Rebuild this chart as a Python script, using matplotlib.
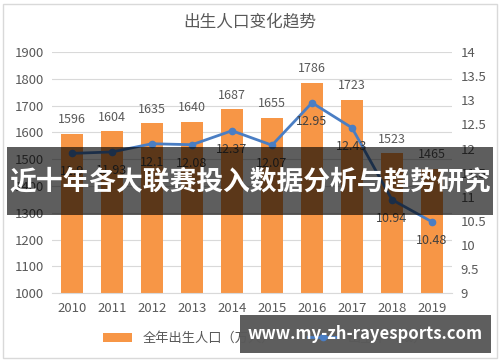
import numpy as np
import matplotlib.pyplot as plt
from matplotlib.patches import Rectangle

plt.rcParams['font.family'] = ['Noto Sans CJK SC', 'DejaVu Sans']

years = ['2010', '2011', '2012', '2013', '2014', '2015', '2016', '2017', '2018', '2019']
births = [1596, 1604, 1635, 1640, 1687, 1655, 1786, 1723, 1523, 1465]
rate = [11.9, 11.93, 12.1, 12.08, 12.37, 12.07, 12.95, 12.43, 10.94, 10.48]

bar_c = '#F79646'
line_c = '#4A7EC4'
txt_c = '#595959'

fig = plt.figure(figsize=(5, 3.62), dpi=100)
ax = fig.add_axes([0.104, 0.19, 0.8, 0.666])
ax2 = ax.twinx()

x = np.arange(len(years))
ax.bar(x, births, width=0.57, color=bar_c, zorder=2, label='全年出生人口（万人）')
ax.set_ylim(1000, 1900)
ax.set_yticks(range(1000, 1901, 100))
ax.set_xlim(-0.5, 9.5)
ax.set_xticks(x)
ax.set_xticklabels(years)
ax.grid(axis='y', color='#D9D9D9', lw=0.8, zorder=0)
ax.set_axisbelow(True)
for s in ax.spines.values():
    s.set_visible(False)
for s in ax2.spines.values():
    s.set_visible(False)
ax.spines['bottom'].set_visible(True)
ax.spines['bottom'].set_color('#D9D9D9')
ax.tick_params(length=0, labelsize=9.5, colors=txt_c, pad=6)
for i, v in enumerate(births):
    ax.text(i, v + 28, str(v), ha='center', va='bottom', fontsize=9, color=txt_c)

ax2.plot(x, rate, color=line_c, lw=2, marker='o', ms=4.5, zorder=3, label='出生率（‰）')
ax2.set_ylim(9, 14)
ax2.set_yticks(np.arange(9, 14.01, 0.5))
ax2.set_yticklabels(['9', '9.5', '10', '10.5', '11', '11.5', '12', '12.5', '13', '13.5', '14'])
ax2.tick_params(length=0, labelsize=9.5, colors=txt_c, pad=6)
for i, v in enumerate(rate):
    ax2.text(i, v - 0.25, f'{v:g}', ha='center', va='top', fontsize=9, color='#404040')

fig.text(0.5, 0.94, '出生人口变化趋势', ha='center', va='center', fontsize=12, color=txt_c)

h1, l1 = ax.get_legend_handles_labels()
h2, l2 = ax2.get_legend_handles_labels()
fig.legend(h1 + h2, l1 + l2, loc='center', bbox_to_anchor=(0.53, 0.065), ncol=2,
           frameon=False, fontsize=9.5, labelcolor=txt_c, handlelength=2.2, columnspacing=2.5)

# outer frame
fig.patches.append(Rectangle((0.006, 0.012), 0.988, 0.978, transform=fig.transFigure,
                             fill=False, ec='#D9D9D9', lw=1))

# dark banner across the middle
fig.patches.append(Rectangle((0.014, 0.406), 0.972, 0.188, transform=fig.transFigure,
                             fc='black', alpha=0.63, ec='none', zorder=5))
fig.text(0.5, 0.5, '近十年各大联赛投入数据分析与趋势研究', ha='center', va='center',
         fontsize=19.3, fontweight='bold', color='white', zorder=6)

# watermark box
fig.patches.append(Rectangle((0.48, 0.025), 0.502, 0.105, transform=fig.transFigure,
                             fc='black', alpha=0.63, ec='none', zorder=5))
fig.text(0.731, 0.078, 'www.my-zh-rayesports.com', ha='center', va='center',
         fontsize=12, fontweight='bold', color='white', zorder=6)

fig.savefig('out.png', dpi=100)
